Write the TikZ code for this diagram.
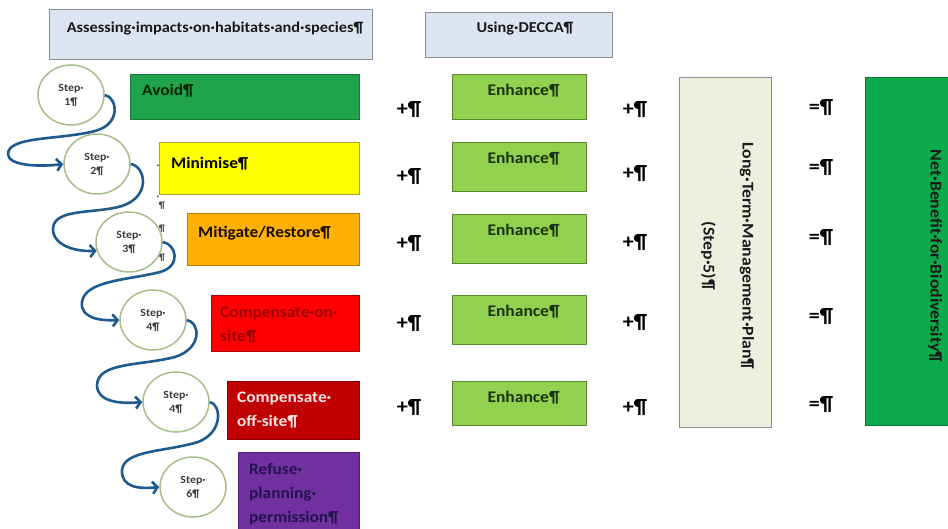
\documentclass[tikz,border=0pt]{standalone}
\usepackage{fontspec}
\setmainfont{Carlito}[FakeStretch=1.08]
\usetikzlibrary{arrows.meta,shapes.geometric}
\definecolor{hdrfill}{HTML}{DCE6F2}
\definecolor{hdrline}{HTML}{8A8F96}
\definecolor{avoidfill}{HTML}{1FA34A}
\definecolor{avoidline}{HTML}{177A38}
\definecolor{minfill}{HTML}{FFFF00}
\definecolor{minline}{HTML}{A8A830}
\definecolor{mitfill}{HTML}{FFB000}
\definecolor{mitline}{HTML}{B07A10}
\definecolor{consfill}{HTML}{FF0000}
\definecolor{consline}{HTML}{B00000}
\definecolor{constext}{HTML}{9A0000}
\definecolor{coffill}{HTML}{C00000}
\definecolor{cofline}{HTML}{8A0000}
\definecolor{coftext}{HTML}{FFE4E4}
\definecolor{reffill}{HTML}{7030A0}
\definecolor{refline}{HTML}{502075}
\definecolor{reftext}{HTML}{24134F}
\definecolor{enhfill}{HTML}{92D050}
\definecolor{enhline}{HTML}{5B8A33}
\definecolor{enhtext}{HTML}{1C3310}
\definecolor{ltfill}{HTML}{EBF1DE}
\definecolor{ltline}{HTML}{8C8C8C}
\definecolor{netfill}{HTML}{0DAA4C}
\definecolor{netline}{HTML}{0A7A38}
\definecolor{circline}{HTML}{A7BE8A}
\definecolor{arrowblue}{HTML}{1E5B8C}
\definecolor{ink}{HTML}{1A1A1A}
\begin{document}
\begin{tikzpicture}[x=1pt,y=-1pt,
  box/.style={draw=#1, line width=1pt, inner sep=0pt, anchor=north west},
  hdrtext/.style={font=\bfseries\fontsize{15.1}{18}\selectfont, text=ink, inner sep=0pt},
  btext/.style={font=\bfseries\fontsize{16}{24}\selectfont, align=left, anchor=north west, inner sep=0pt},
  enhtxt/.style={font=\bfseries\fontsize{16.2}{19}\selectfont, text=enhtext, inner sep=0pt},
  optext/.style={font=\bfseries\fontsize{20.5}{24}\selectfont, text=black, inner sep=0pt},
  stepc/.style={ellipse, draw=circline, fill=white, line width=1.5pt, minimum width=66pt, minimum height=60pt, inner sep=0pt, align=center, text=ink!85, font=\bfseries\fontsize{11}{14}\selectfont},
  flow/.style={draw=arrowblue, line width=2.6pt, -{Straight Barb[length=5pt,width=12pt]}},
  pmark/.style={font=\bfseries\fontsize{9.5}{10}\selectfont, text=ink!80, inner sep=0pt}
]
\useasboundingbox (0,0) rectangle (948,529);
\clip (0,0) rectangle (948,529);

% headers
\node[box=hdrline, fill=hdrfill, minimum width=323pt, minimum height=50pt] (h1) at (49,9) {};
\node[hdrtext] (h1t) at (215,28) {Assessing·impacts·on·habitats·and·species¶};
\node[box=hdrline, fill=hdrfill, minimum width=187pt, minimum height=45pt] (h2) at (425,12) {};
\node[hdrtext] (h2t) at (525,28) {Using·DECCA¶};

% hierarchy boxes
\node[box=avoidline, fill=avoidfill, minimum width=229pt, minimum height=45pt] (avoid) at (130,74) {};
\node[box=minline, fill=minfill, minimum width=200pt, minimum height=52pt] (mini) at (159,142) {};
\node[box=mitline, fill=mitfill, minimum width=172pt, minimum height=52pt] (miti) at (187,213) {};
\node[box=consline, fill=consfill, minimum width=148pt, minimum height=56pt] (cons) at (211,295) {};
\node[box=cofline, fill=coffill, minimum width=132pt, minimum height=58pt] (coff) at (227,381) {};
\node[box=refline, fill=reffill, minimum width=121pt, minimum height=95pt] (refu) at (238,452) {};

\node[btext, text=black!85!green] (avoidt) at ([shift={(12,10)}]avoid.north west) {Avoid¶};
\node[btext, text=black] (minit) at ([shift={(12,15)}]mini.north west) {Minimise¶};
\node[btext, text=black!90!orange] (mitit) at ([shift={(11,13)}]miti.north west) {Mitigate/Restore¶};
\node[btext, text=constext] (const) at ([shift={(9,12)}]cons.north west) {Compensate·on·\\site¶};
\node[btext, text=coftext] (cofft) at ([shift={(10,11)}]coff.north west) {Compensate·\\off-site¶};
\node[btext, text=reftext] (refut) at ([shift={(11,11)}]refu.north west) {Refuse·\\planning·\\permission¶};

% stray formatting marks
\node[pmark] (m1) at (158,167) {·};
\node[pmark] (m2) at (158,198) {·};
\node[pmark] (m3) at (162,206) {¶};
\node[pmark] (m4) at (162,229) {¶};
\node[pmark] (m5) at (162,258) {¶};

% enhance boxes
\foreach \i/\y/\h in {1/74/45, 2/142/49, 3/214/49, 4/295/49, 5/381/44}{
  \node[box=enhline, fill=enhfill, minimum width=134pt, minimum height=\h pt] (e\i) at (452,\y) {};
  \node[enhtxt] (e\i t) at ([shift={(4,17)}]e\i.north) {Enhance¶};
}

% operators
\foreach \i/\y in {1/110, 2/177, 3/244, 4/324, 5/408}{
  \node[optext] (pa\i) at (409,\y) {+¶};
}
\foreach \i/\y in {1/110, 2/174, 3/243, 4/323, 5/408}{
  \node[optext] (pb\i) at (635,\y) {+¶};
}
\foreach \i/\y in {1/108, 2/168, 3/238, 4/317, 5/405}{
  \node[optext] (eq\i) at (821,\y) {=¶};
}

% long-term management plan
\node[box=ltline, fill=ltfill, minimum width=92pt, minimum height=350pt] (ltm) at (679,77) {};
\node[rotate=-90, align=center, inner sep=0pt, text=ink, font=\bfseries\fontsize{16.4}{39}\selectfont] (ltmt) at (727.5,256) {Long·Term·Management·Plan¶\\(Step·5)¶};

% net benefit
\node[box=netline, fill=netfill, minimum width=110pt, minimum height=348pt] (net) at (865,77) {};
\node[rotate=-90, inner sep=0pt, text=ink, font=\bfseries\fontsize{16.4}{18}\selectfont] (nett) at (935,256) {Net·Benefit·for·Biodiversity¶};

% step circles
\node[stepc] (s1) at (71,95) {Step·\\1¶};
\node[stepc] (s2) at (97,164) {Step·\\2¶};
\node[stepc] (s3) at (129,242) {Step·\\3¶};
\node[stepc] (s4) at (153,320) {Step·\\4¶};
\node[stepc] (s5) at (176,402) {Step·\\4¶};
\node[stepc] (s6) at (193,487) {Step·\\6¶};

% curved arrows
\draw[flow] (s1.east) .. controls (117,97) and (122,124) .. (95,131)
  .. controls (60,140) and (8,136) .. (8,154)
  .. controls (8,166) and (40,167) .. (s2.west);
\draw[flow] (s2.east) .. controls (145,166) and (152,196) .. (122,206)
  .. controls (95,214) and (55,208) .. (53,228)
  .. controls (52,245) and (75,252) .. (s3.195);
\draw[flow] (s3.east) .. controls (176,244) and (182,266) .. (160,272)
  .. controls (130,280) and (85,280) .. (82,302)
  .. controls (80,318) and (100,321) .. (s4.west);
\draw[flow] (s4.east) .. controls (200,322) and (203,348) .. (175,357)
  .. controls (140,366) and (98,362) .. (97,385)
  .. controls (97,402) and (120,404) .. (s5.west);
\draw[flow] (s5.east) .. controls (221,404) and (224,432) .. (198,442)
  .. controls (165,452) and (124,450) .. (122,470)
  .. controls (121,488) and (140,489) .. (s6.west);
\end{tikzpicture}
\end{document}
